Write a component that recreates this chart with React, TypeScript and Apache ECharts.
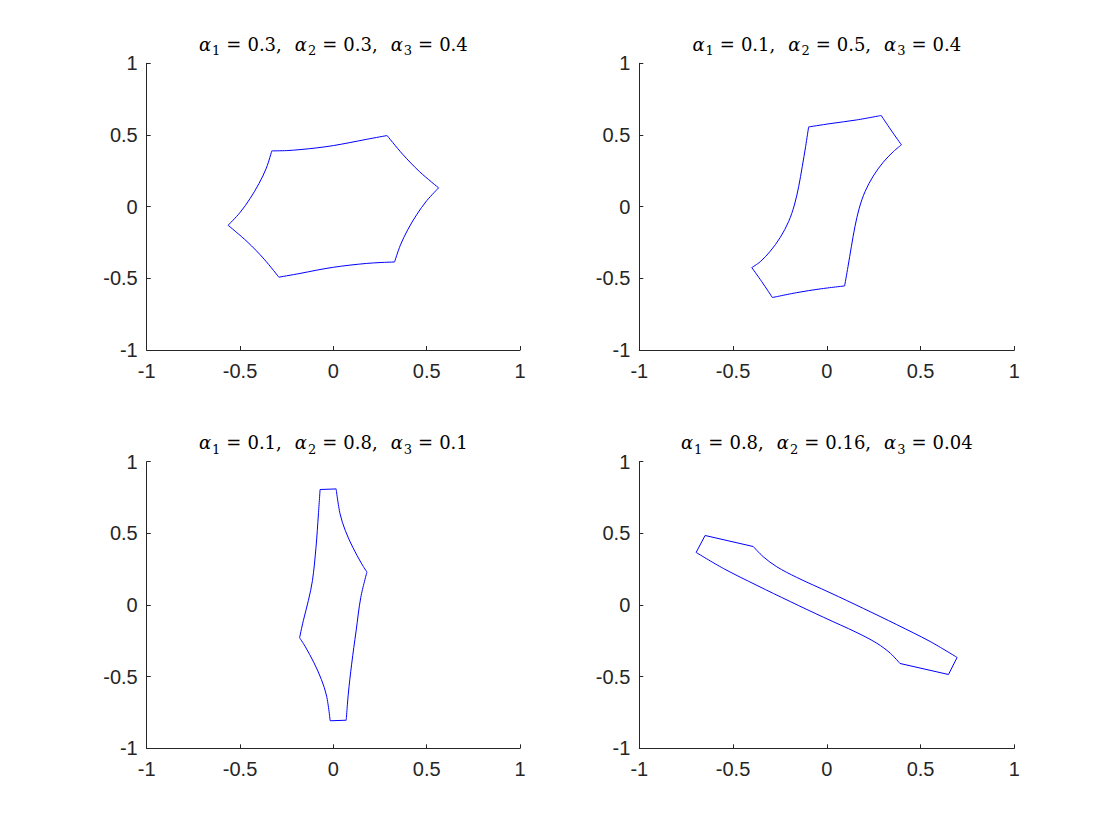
import React, { useEffect, useRef } from 'react';
import * as echarts from 'echarts';

// ---- data ----
const tickLabels = ['-1', '-0.5', '0', '0.5', '1'];

const alphaTitles: string[][] = [
  ['0.3', '0.3', '0.4'],
  ['0.1', '0.5', '0.4'],
  ['0.1', '0.8', '0.1'],
  ['0.8', '0.16', '0.04'],
];

// each curve is a closed outline, stored as its edges (corner to corner)
const plot1Edges: number[][][] = [
  [[-0.330, 0.389], [-0.250, 0.391], [-0.179, 0.398], [-0.089, 0.410], [0.0, 0.426], [0.089, 0.447], [0.179, 0.470], [0.288, 0.496]],
  [[0.288, 0.496], [0.371, 0.366], [0.462, 0.244], [0.564, 0.131]],
  [[0.564, 0.131], [0.500, 0.041], [0.446, -0.057], [0.399, -0.160], [0.359, -0.269], [0.328, -0.386]],
  [[0.328, -0.386], [0.250, -0.390], [0.179, -0.396], [0.089, -0.408], [0.0, -0.423], [-0.089, -0.443], [-0.179, -0.466], [-0.292, -0.492]],
  [[-0.292, -0.492], [-0.371, -0.366], [-0.462, -0.244], [-0.564, -0.130]],
  [[-0.564, -0.130], [-0.500, -0.041], [-0.446, 0.057], [-0.399, 0.160], [-0.359, 0.269], [-0.330, 0.389]],
];

const plot2Edges: number[][][] = [
  [[-0.097, 0.556], [0.017, 0.579], [0.159, 0.605], [0.290, 0.636]],
  [[0.290, 0.636], [0.342, 0.535], [0.398, 0.431]],
  [[0.398, 0.431], [0.355, 0.384], [0.301, 0.310], [0.248, 0.214], [0.204, 0.105], [0.173, -0.011], [0.150, -0.140], [0.131, -0.279], [0.113, -0.419], [0.095, -0.553]],
  [[0.095, -0.553], [-0.036, -0.574], [-0.161, -0.600], [-0.290, -0.634]],
  [[-0.290, -0.634], [-0.347, -0.523], [-0.400, -0.425]],
  [[-0.400, -0.425], [-0.355, -0.384], [-0.301, -0.310], [-0.248, -0.214], [-0.204, -0.105], [-0.173, 0.011], [-0.150, 0.140], [-0.131, 0.279], [-0.113, 0.419], [-0.097, 0.556]],
];

const plot3Edges: number[][][] = [
  [[-0.071, 0.806], [0.015, 0.810]],
  [[0.015, 0.810], [0.036, 0.636], [0.064, 0.520], [0.104, 0.403], [0.152, 0.287], [0.180, 0.230]],
  [[0.180, 0.230], [0.147, 0.053], [0.122, -0.180], [0.098, -0.413], [0.080, -0.622], [0.069, -0.804]],
  [[0.069, -0.804], [-0.017, -0.808]],
  [[-0.017, -0.808], [-0.036, -0.636], [-0.064, -0.520], [-0.104, -0.403], [-0.152, -0.287], [-0.181, -0.229]],
  [[-0.181, -0.229], [-0.161, -0.110], [-0.134, 0.030], [-0.112, 0.170], [-0.093, 0.402], [-0.080, 0.635], [-0.071, 0.806]],
];

const plot4Edges: number[][][] = [
  [[-0.697, 0.367], [-0.649, 0.485]],
  [[-0.649, 0.485], [-0.392, 0.408]],
  [[-0.392, 0.408], [-0.339, 0.337], [-0.267, 0.267], [-0.161, 0.193], [0.017, 0.086], [0.195, -0.024], [0.373, -0.137], [0.550, -0.254], [0.695, -0.366]],
  [[0.695, -0.366], [0.649, -0.485]],
  [[0.649, -0.485], [0.390, -0.408]],
  [[0.390, -0.408], [0.339, -0.337], [0.267, -0.267], [0.161, -0.193], [-0.017, -0.086], [-0.195, 0.024], [-0.373, 0.137], [-0.550, 0.254], [-0.697, 0.367]],
];

const allPlots = [plot1Edges, plot2Edges, plot3Edges, plot4Edges];

// ---- layout ----
const grids = [
  { left: 146.7, top: 63.3, width: 373.3, height: 286.7 },
  { left: 639.3, top: 63.3, width: 375, height: 286.7 },
  { left: 146.7, top: 461.7, width: 373.3, height: 286.6 },
  { left: 639.3, top: 461.7, width: 375, height: 286.6 },
];

const AXIS_COLOR = '#262626';
const LINE_COLOR = '#0000ff';

function titleText(vals: string[]) {
  return vals
    .map((v, i) => `{a|α}{s|${i + 1}}{e|=}{${i < vals.length - 1 ? 'm' : 'n'}|${v}${i < vals.length - 1 ? ',' : ''}}`)
    .join('');
}

export default function App() {
  const ref = useRef<HTMLDivElement>(null);
  useEffect(() => {
    if (!ref.current) return;
    const chart = echarts.init(ref.current, null, { renderer: 'svg' });

    const axisCommon = {
      type: 'value' as const,
      min: -1,
      max: 1,
      interval: 0.5,
      splitLine: { show: false },
      axisLine: { show: true, onZero: false, lineStyle: { color: AXIS_COLOR, width: 1 } },
      axisTick: { show: true, inside: true, length: 4, lineStyle: { color: AXIS_COLOR, width: 1 } },
    };

    const labelStyle = {
      color: AXIS_COLOR,
      fontFamily: 'Liberation Sans, Arial, sans-serif',
      fontSize: 20,
      formatter: (v: number) => tickLabels[Math.round((v + 1) / 0.5)] ?? String(v),
    };

    const xAxis = grids.map((_, i) => ({
      ...axisCommon,
      gridIndex: i,
      position: 'bottom',
      axisLabel: { ...labelStyle, margin: 11 },
    }));
    const yAxis = grids.map((_, i) => ({
      ...axisCommon,
      gridIndex: i,
      position: 'left',
      axisLabel: { ...labelStyle, margin: 9 },
    }));

    const series: any[] = [];
    allPlots.forEach((edges, gi) => {
      edges.forEach((edge) => {
        series.push({
          type: 'line',
          xAxisIndex: gi,
          yAxisIndex: gi,
          data: edge,
          showSymbol: false,
          symbol: 'none',
          smooth: edge.length > 2 ? 0.35 : false,
          lineStyle: { color: LINE_COLOR, width: 1 },
          silent: true,
        });
      });
    });

    const serif = 'DejaVu Serif, Liberation Serif, serif';
    const base = { fontFamily: serif, fontSize: 18, verticalAlign: 'bottom', lineHeight: 24 };
    const graphic = grids.map((g, i) => ({
      type: 'text',
      x: g.left + g.width / 2,
      y: g.top - 18,
      style: {
        text: titleText(alphaTitles[i]),
        align: 'center',
        verticalAlign: 'middle',
        fill: '#000',
        rich: {
          a: { ...base, fontStyle: 'italic', padding: [0, 0, 4, 0] },
          s: { fontFamily: serif, fontSize: 13, verticalAlign: 'bottom', lineHeight: 17, padding: [0, 0, 0, 1] },
          e: { ...base, padding: [0, 6, 4, 6] },
          m: { ...base, padding: [0, 13, 4, 0] },
          n: { ...base, padding: [0, 0, 4, 0] },
        },
      },
    }));

    chart.setOption({
      animation: false,
      backgroundColor: '#ffffff',
      grid: grids.map((g) => ({ ...g, containLabel: false })),
      xAxis,
      yAxis,
      series,
      graphic,
    });
    return () => chart.dispose();
  }, []);
  return (
    <div
      ref={ref}
      style={{ position: 'absolute', left: 0, top: 0, width: 1120, height: 840, background: '#fff' }}
    />
  );
}
